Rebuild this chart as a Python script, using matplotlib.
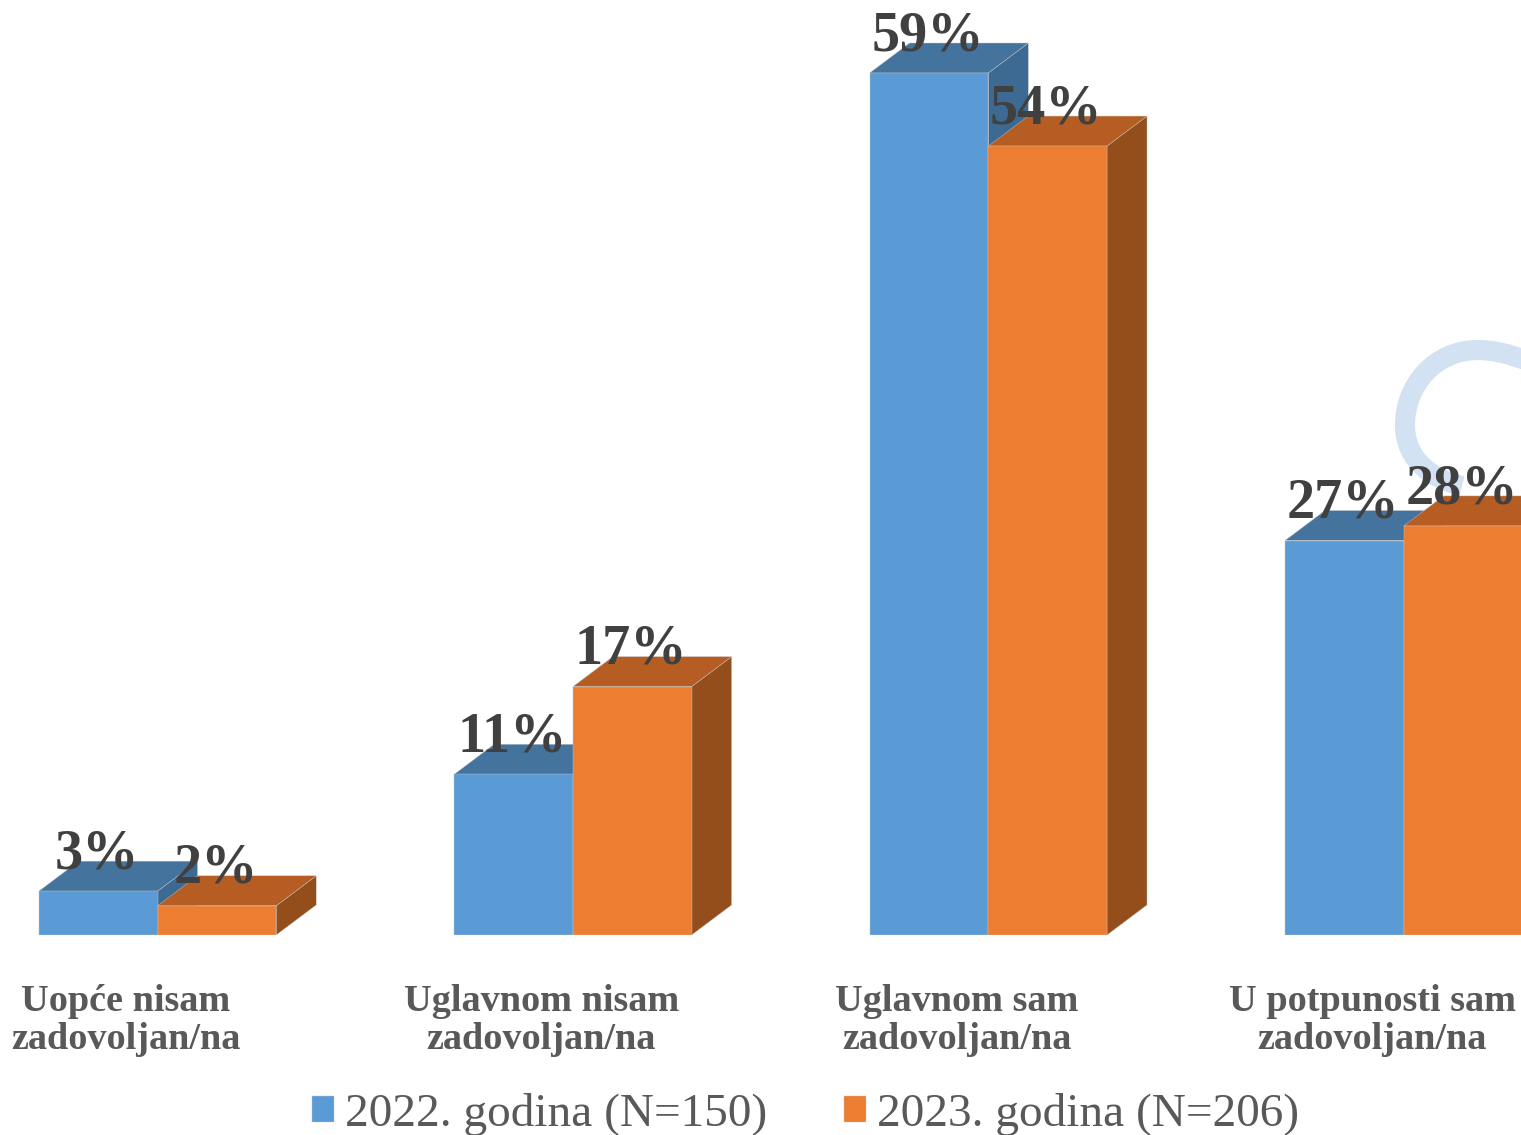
import matplotlib.pyplot as plt
from matplotlib.patches import PathPatch
from matplotlib.path import Path

plt.rcParams['font.family'] = ['Liberation Serif', 'DejaVu Serif']

categories = ['Uopće nisam\nzadovoljan/na', 'Uglavnom nisam\nzadovoljan/na',
              'Uglavnom sam\nzadovoljan/na', 'U potpunosti sam\nzadovoljan/na']
values_2022 = [3, 11, 59, 27]
values_2023 = [2, 17, 54, 28]
series_names = ['2022. godina (N=150)', '2023. godina (N=206)']

W, H = 1521, 1135
BASE = 935
x_unit = 415.4   # px between groups
y_unit = 14.61   # px per percent
x0 = 157.5       # px of the first group centre
bar_w = 118.7 / x_unit
dx = 40 / x_unit
dy = 30 / y_unit

blue = '#5B9BD5'
blue_top = '#44739E'
blue_side = '#3D6A93'
orange = '#ED7D31'
orange_top = '#B55D22'
orange_side = '#934E1B'
edge = '#C4C4C4'

fig = plt.figure(figsize=(W / 100, H / 100), dpi=100)
ax = fig.add_axes([0, (H - BASE) / H, 1, BASE / H])
ax.set_xlim(-x0 / x_unit, (W - x0) / x_unit)
ax.set_ylim(0, BASE / y_unit)


def px(x, y):
    # picture pixels to data units
    return ((x - x0) / x_unit, (BASE - y) / y_unit)


def draw_bars(xs, vals, front, top, side, name, z):
    for x, v in zip(xs, vals):
        left = x - bar_w / 2
        right = x + bar_w / 2
        # side and top faces of the 3d look
        ax.fill([right, right + dx, right + dx, right], [0, dy, v + dy, v],
                color=side, ec=edge, lw=0.3, zorder=z)
        ax.fill([left, left + dx, right + dx, right], [v, v + dy, v + dy, v],
                color=top, ec=edge, lw=0.3, zorder=z)
    return ax.bar(xs, vals, width=bar_w, color=front, edgecolor=edge, linewidth=0.3,
                  label=name, zorder=z + 0.5)


pos = list(range(len(categories)))
pos_2022 = [p - bar_w / 2 for p in pos]
pos_2023 = [p + bar_w / 2 for p in pos]

# light ring in the back of the last group
ring_pts = [(1530, 362), (1508, 353), (1492, 350), (1478, 350),
            (1435, 350), (1405, 385), (1405, 425),
            (1405, 455), (1425, 477), (1462, 486)]
ring_codes = [Path.MOVETO] + [Path.CURVE4] * 9
ring = PathPatch(Path([px(*p) for p in ring_pts], ring_codes), fc='none', ec='#D2E2F3',
                 lw=14.5, capstyle='butt', zorder=1)
ax.add_patch(ring)

draw_bars(pos_2022, values_2022, blue, blue_top, blue_side, series_names[0], 2)
draw_bars(pos_2023, values_2023, orange, orange_top, orange_side, series_names[1], 3)

for xs, vals in [(pos_2022, values_2022), (pos_2023, values_2023)]:
    for x, v in zip(xs, vals):
        ax.annotate(str(v) + '%', (x, v), xytext=(-1, 26.5), textcoords='offset points',
                    ha='center', va='center', fontsize=40.5, fontweight='bold',
                    color='#404040', zorder=6, clip_on=True)

# labels sit a bit left of the group centre
ax.set_xticks([p - 31.5 / x_unit for p in pos])
ax.set_xticklabels(categories, fontsize=27.5, fontweight='bold', color='#595959', linespacing=1.13)
ax.tick_params(axis='x', length=0, pad=35)
ax.set_yticks([])
for sp in ax.spines.values():
    sp.set_visible(False)
ax.patch.set_visible(False)

fig.legend(loc='center', bbox_to_anchor=(805.5 / W, 1 - 1114 / H), ncols=2, frameon=False,
           fontsize=34, labelcolor='#595959', handlelength=0.46, handleheight=0.46,
           handletextpad=0.24, columnspacing=1.62, borderpad=0)

fig.savefig('out.png', dpi=100)
